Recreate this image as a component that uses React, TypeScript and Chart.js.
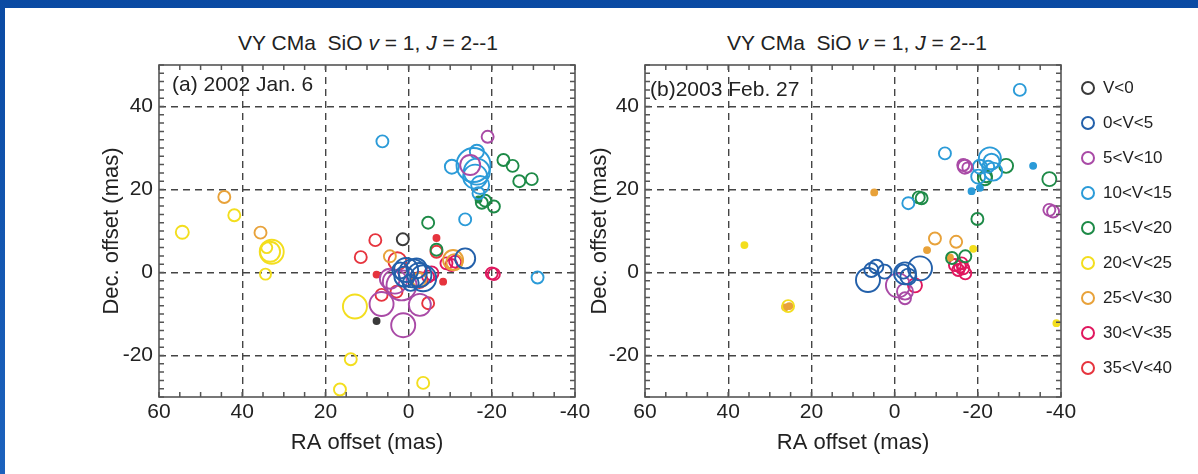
import React, { useEffect, useRef } from 'react';
import { Chart, registerables } from 'chart.js';
Chart.register(...registerables);

// ---------- axes ----------
const X_TICKS = [60, 40, 20, 0, -20, -40];
const Y_TICKS = [-20, 0, 20, 40];
const X_MIN = -40;
const X_MAX = 60;
const Y_MIN = -30;
const Y_MAX = 50;
const X_MINOR_STEP = 5;
const Y_MINOR_STEP = 2;

// ---------- velocity classes ----------
const CLASSES = ['V<0', '0<V<5', '5<V<10', '10<V<15', '15<V<20', '20<V<25', '25<V<30', '30<V<35', '35<V<40'];
const COLORS = ['#3a3a3a', '#2360aa', '#a94aa6', '#2b9bd8', '#1d8a47', '#f3de1e', '#e8a23a', '#e0175e', '#e6343e'];

// ---------- panel (a) 2002 Jan. 6 : [RA, Dec, size] ----------
const A_VNEG = [[1.4, 8.0, 6], [7.7, -11.7, 3]];
const A_V0_5 = [[0.6, 0.6, 12], [-1.0, -0.2, 14], [-2.6, -0.6, 12], [1.0, -1.0, 10], [-1.9, 1.0, 10], [-3.5, -1.4, 13], [-13.6, 3.4, 10], [-0.5, -2.5, 8], [2.0, 0.5, 8]];
const A_V5_10 = [[1.7, -3.1, 15], [3.3, -2.2, 12], [6.5, -7.6, 12], [1.3, -12.7, 12], [-2.7, -7.8, 11], [-14.8, 25.9, 10], [-19.0, 32.7, 6], [4.5, -1.5, 10]];
const A_V10_15 = [[6.3, 31.6, 6], [-13.6, 12.8, 6], [-31.0, -1.2, 6], [-15.6, 25.9, 17], [-16.4, 24.3, 13], [-16.0, 23.1, 12], [-16.4, 29.1, 7], [-10.4, 25.5, 7], [-16.8, 19.1, 6], [-17.2, 21.1, 9]];
const A_V15_20 = [[-4.7, 12.0, 6], [-22.8, 27.1, 6], [-25.0, 25.7, 6], [-26.6, 22.0, 6], [-29.6, 22.5, 6], [-17.6, 16.8, 6], [-18.4, 17.3, 6], [-20.5, 15.9, 6], [-16.8, 17.6, 3], [-6.7, 5.5, 6]];
const A_V20_25 = [[54.4, 9.7, 6.5], [41.9, 13.8, 6], [32.9, 5.0, 12], [33.3, 5.0, 10], [34.1, 6.0, 5.5], [34.4, -0.4, 5.5], [12.9, -8.2, 12], [13.9, -20.9, 6], [16.5, -28.2, 6], [-3.5, -26.6, 6]];
const A_V25_30 = [[44.3, 18.2, 6], [35.6, 9.6, 6], [4.5, 3.9, 6], [-10.7, 3.0, 10], [-2.6, -1.8, 7], [-11.0, 2.5, 8]];
const A_V30_35 = [[-9.1, 2.2, 6], [-10.3, 1.8, 6], [-11.2, 2.6, 6], [-20.0, -0.2, 6], [-20.5, -0.4, 6], [-5.5, -0.2, 7], [-4.7, -1.0, 6]];
const A_V35_40 = [[8.0, 7.8, 6], [11.5, 3.7, 6], [2.7, 2.7, 9], [-6.7, 5.0, 6], [6.5, -5.4, 6], [2.9, -4.6, 6], [-4.7, -7.4, 6], [-2.6, -1.8, 8], [-6.7, 8.3, 3], [7.7, -0.5, 3], [-8.3, -2.2, 3]];

// ---------- panel (b) 2003 Feb. 27 : [RA, Dec, size] ----------
const B_VNEG: number[][] = [];
const B_V0_5 = [[6.4, -1.8, 12], [5.6, 0.6, 7], [4.4, 1.4, 7], [2.4, 0.2, 7], [-2.5, -0.2, 11], [-6.1, 1.0, 12], [-3.3, -1.0, 8], [-2.1, 0.2, 7]];
const B_V5_10 = [[-0.8, -3.1, 12], [-2.5, -4.6, 8], [-2.5, -6.2, 6], [-16.9, 25.5, 7], [-16.5, 25.9, 6], [-17.5, 25.3, 5], [-37.2, 15.1, 6], [-38.1, 14.7, 6]];
const B_V10_15 = [[-30.1, 44.0, 6], [-12.1, 28.7, 6], [-22.9, 27.5, 11], [-23.3, 26.7, 8], [-20.5, 25.5, 7], [-23.7, 24.3, 9], [-20.1, 23.1, 7], [-22.5, 25.5, 6], [-3.3, 16.7, 6], [-33.3, 25.7, 3], [-18.5, 19.6, 3], [-20.5, 20.4, 3]];
const B_V15_20 = [[-21.7, 22.7, 7], [-22.0, 23.2, 6], [-26.8, 25.7, 7], [-37.2, 22.5, 7], [-19.9, 12.9, 6], [-5.8, 18.1, 6], [-6.5, 17.9, 6], [-13.8, 3.5, 6], [-17.0, 3.9, 6]];
const B_V20_25 = [[36.1, 6.6, 3], [25.6, -8.1, 6], [-18.9, 5.7, 3], [-38.9, -12.2, 3]];
const B_V25_30 = [[4.9, 19.3, 3], [26.3, -8.4, 3], [25.3, -8.1, 3], [-9.7, 8.2, 6], [-14.8, 7.4, 6], [-7.8, 5.4, 3], [-13.3, 3.6, 3]];
const B_V30_35 = [[-4.9, -3.1, 7], [-14.5, 1.8, 6], [-15.7, 1.4, 6], [-16.5, 1.0, 6], [-15.3, 0.6, 6], [-17.0, -0.2, 6], [-16.1, 2.2, 6]];
const B_V35_40: number[][] = [];

const PANEL_A = [A_VNEG, A_V0_5, A_V5_10, A_V10_15, A_V15_20, A_V20_25, A_V25_30, A_V30_35, A_V35_40];
const PANEL_B = [B_VNEG, B_V0_5, B_V5_10, B_V10_15, B_V15_20, B_V20_25, B_V25_30, B_V30_35, B_V35_40];

const FONT = '"Liberation Sans", Arial, Helvetica, sans-serif';
const TEXT = '#222';

const framePlugin = {
  id: 'frameTicks',
  afterDraw(chart: any) {
    const { ctx, chartArea } = chart;
    const { left, right, top, bottom } = chartArea;
    const xs = chart.scales.x;
    const ys = chart.scales.y;
    ctx.save();
    ctx.strokeStyle = '#555';
    ctx.lineWidth = 1.5;
    ctx.beginPath();
    for (let v = X_MIN; v <= X_MAX; v += X_MINOR_STEP) {
      const px = xs.getPixelForValue(v);
      ctx.moveTo(px, bottom);
      ctx.lineTo(px, bottom - 5);
      ctx.moveTo(px, top);
      ctx.lineTo(px, top + 5);
    }
    for (let v = Y_MIN; v <= Y_MAX; v += Y_MINOR_STEP) {
      const py = ys.getPixelForValue(v);
      ctx.moveTo(left, py);
      ctx.lineTo(left + 5, py);
      ctx.moveTo(right, py);
      ctx.lineTo(right - 5, py);
    }
    ctx.stroke();
    ctx.lineWidth = 1.6;
    ctx.strokeRect(left, top, right - left, bottom - top);
    const label = chart.options.plugins.frameTicks?.label;
    const dx = chart.options.plugins.frameTicks?.dx ?? 12;
    const dy = chart.options.plugins.frameTicks?.dy ?? 20;
    if (label) {
      ctx.fillStyle = TEXT;
      ctx.font = `21px ${FONT}`;
      ctx.textBaseline = 'middle';
      ctx.textAlign = 'left';
      ctx.fillText(label, left + dx, top + dy);
    }
    ctx.restore();
  },
};

function Panel(props: { panel: number[][][]; label: string; left: number; width: number; padLeft: number; yWidth: number; dx: number; dy: number }) {
  const ref = useRef<HTMLCanvasElement>(null);
  useEffect(() => {
    const canvas = ref.current;
    if (!canvas) return;
    const datasets = props.panel.map((pts, i) => ({
      label: CLASSES[i],
      data: pts.map(([x, y, r]) => ({ x, y, r })),
      borderColor: COLORS[i],
      backgroundColor: (c: any) => (c.raw && c.raw.r <= 3.5 ? COLORS[i] : 'rgba(0,0,0,0)'),
      borderWidth: 1.9,
      hoverRadius: 0,
    }));
    const gridColor = (c: any) => {
      const v = c.tick ? c.tick.value : null;
      return v === X_MIN || v === X_MAX || v === Y_MIN || v === Y_MAX ? 'rgba(0,0,0,0)' : '#444';
    };
    const chart = new Chart(canvas, {
      type: 'bubble',
      data: { datasets },
      plugins: [framePlugin],
      options: {
        animation: false,
        responsive: false,
        events: [],
        layout: { padding: { top: 65, left: props.padLeft, right: 25, bottom: 18 } },
        plugins: {
          legend: { display: false },
          tooltip: { enabled: false },
          frameTicks: { label: props.label, dx: props.dx, dy: props.dy },
        } as any,
        scales: {
          x: {
            type: 'linear',
            min: X_MIN,
            max: X_MAX,
            reverse: true,
            afterBuildTicks: (s: any) => { s.ticks = X_TICKS.map((v) => ({ value: v })); },
            afterFit: (s: any) => { s.height = 474 - 18 - 397; },
            ticks: { color: TEXT, font: { family: FONT, size: 21 }, padding: 3, maxRotation: 0, autoSkip: false },
            grid: { color: gridColor, lineWidth: 1.4, drawTicks: false },
            border: { display: false, dash: [7, 5] },
            title: { display: true, text: 'RA offset (mas)', color: TEXT, font: { family: FONT, size: 22 }, padding: 0 },
          },
          y: {
            type: 'linear',
            min: Y_MIN,
            max: Y_MAX,
            afterBuildTicks: (s: any) => { s.ticks = Y_TICKS.map((v) => ({ value: v })); },
            afterFit: (s: any) => { s.width = props.yWidth; },
            ticks: { color: TEXT, font: { family: FONT, size: 21 }, padding: 6, autoSkip: false },
            grid: { color: gridColor, lineWidth: 1.4, drawTicks: false },
            border: { display: false, dash: [7, 5] },
            title: { display: true, text: 'Dec. offset (mas)', color: TEXT, font: { family: FONT, size: 22 }, padding: 0 },
          },
        },
      } as any,
    });
    return () => chart.destroy();
  }, []);
  return (
    <canvas
      ref={ref}
      width={props.width}
      height={474}
      style={{ position: 'absolute', left: props.left, top: 0, width: props.width, height: 474 }}
    />
  );
}

function Title(props: { cx: number }) {
  return (
    <div
      style={{
        position: 'absolute',
        left: props.cx - 200,
        width: 400,
        top: 30,
        textAlign: 'center',
        fontFamily: FONT,
        fontSize: 21,
        color: TEXT,
        whiteSpace: 'pre',
        lineHeight: '26px',
      }}
    >
      {'VY CMa  SiO '}<i>v</i>{' = 1, '}<i>J</i>{' = 2--1'}
    </div>
  );
}

export default function App() {
  return (
    <div
      style={{
        position: 'fixed',
        left: 0,
        top: 0,
        width: 1198,
        height: 474,
        background: 'linear-gradient(180deg, #0a4aa3 0%, #1c62bd 100%)',
        overflow: 'hidden',
      }}
    >
      <div style={{ position: 'absolute', left: 5, top: 8, right: 0, bottom: 0, background: '#ffffff' }} />
      <Title cx={368} />
      <Title cx={857} />
      <Panel panel={PANEL_A} label="(a) 2002 Jan. 6" left={0} width={600} padLeft={99} yWidth={60} dx={13} dy={20} />
      <Panel panel={PANEL_B} label="(b)2003 Feb. 27" left={560} width={526} padLeft={27} yWidth={58} dx={5} dy={25} />
      {CLASSES.map((c, i) => (
        <div
          key={c}
          style={{ position: 'absolute', left: 1081, top: 88 + 35 * i - 12, height: 24, display: 'flex', alignItems: 'center', fontFamily: FONT, fontSize: 17, color: TEXT }}
        >
          <span style={{ display: 'inline-block', width: 10, height: 10, borderRadius: '50%', border: `2px solid ${COLORS[i]}`, marginRight: 8 }} />
          <span>{c}</span>
        </div>
      ))}
    </div>
  );
}
